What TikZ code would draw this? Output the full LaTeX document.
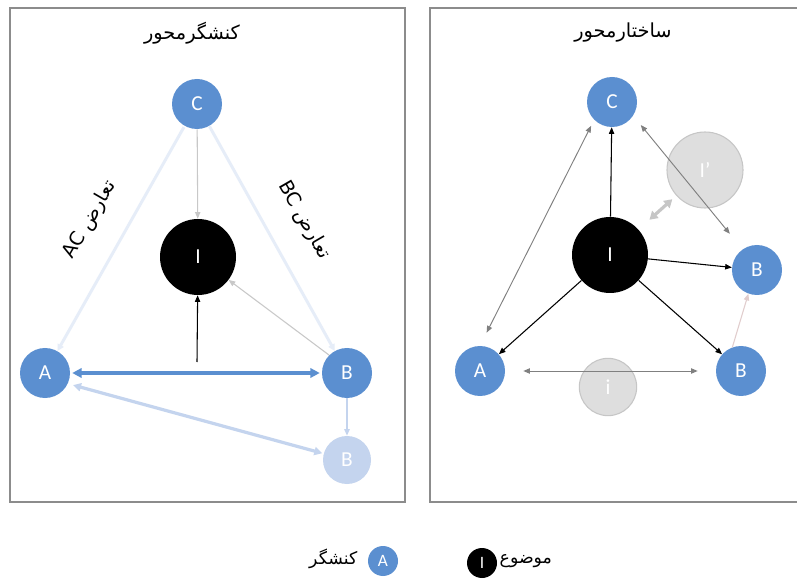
\documentclass[tikz,border=0pt]{standalone}
\usepackage{fontspec}
\setmainfont{Carlito}
\newfontfamily\arabicfont[Script=Arabic]{DejaVu Sans}
\TeXXeTstate=1
\usetikzlibrary{arrows.meta}
\definecolor{nodeblue}{RGB}{91,143,208}
\definecolor{paleblue}{RGB}{196,212,238}
\definecolor{faintblue}{RGB}{230,237,248}
\definecolor{ghostfill}{RGB}{222,222,222}
\definecolor{ghostdraw}{RGB}{198,198,198}
\definecolor{framegray}{RGB}{140,140,140}
\definecolor{arrowgray}{RGB}{128,128,128}
\definecolor{lightgray2}{RGB}{200,200,200}
\definecolor{pinkgray}{RGB}{225,205,205}
\tikzset{
  actor/.style={circle, fill=nodeblue, text=white, minimum size=37.5pt, inner sep=0pt, font=\fontsize{16}{16}\selectfont},
  topic/.style={circle, fill=black, text=white, minimum size=57pt, inner sep=0pt, font=\fontsize{16}{16}\selectfont},
  ghostactor/.style={circle, fill=paleblue, text=white, minimum size=36pt, inner sep=0pt, font=\fontsize{16}{16}\selectfont},
  ghosttopic/.style={circle, fill=ghostfill, draw=ghostdraw, line width=0.8pt, text=white, inner sep=0pt, font=\fontsize{16}{16}\selectfont},
  legactor/.style={circle, fill=nodeblue, text=white, minimum size=22.5pt, inner sep=0pt, font=\fontsize{13}{13}\selectfont},
  legtopic/.style={circle, fill=black, text=white, minimum size=22.5pt, inner sep=0pt, font=\fontsize{13}{13}\selectfont},
  frame/.style={draw=framegray, line width=0.8pt},
  title/.style={font=\arabicfont\fontsize{14.5}{16}\selectfont},
  legtext/.style={font=\arabicfont\fontsize{13}{15}\selectfont},
  conflict/.style={font=\arabicfont\fontsize{14.5}{16}\selectfont},
  tip/.style={-{Triangle[length=5pt,width=4pt]}},
  dtip/.style={{Triangle[length=5pt,width=4pt]}-{Triangle[length=5pt,width=4pt]}},
  blackarrow/.style={tip, black, line width=0.8pt},
  grayarrow/.style={dtip, arrowgray, line width=0.7pt},
}
\begin{document}
\begin{tikzpicture}[x=0.75pt,y=-0.75pt]
\useasboundingbox (0,0) rectangle (797,581);
\fill[white] (0,0) rectangle (797,581);

% frames
\draw[frame] (10,8) rectangle (405,502);
\draw[frame] (797,8) -- (430,8) -- (430,502) -- (797,502);

% titles
\node[title] (ltitle) at (192,33) {\beginR کنشگرمحور\endR};
\node[title] (rtitle) at (623,33) {\beginR ساختارمحور\endR};

% ===== left panel =====
\node[actor] (lC) at (197,104) {C};
\node[topic] (lI) at (198,257) {I};
\node[actor] (lA) at (45,373) {A};
\node[actor] (lB) at (347,373) {B};
\node[ghostactor] (lBp) at (347,460) {B};
\coordinate (lup) at (197,362);

\draw[{Triangle[length=5pt,width=5pt]}-, faintblue, line width=2.2pt, shorten >=1pt] (lA) -- (lC);
\draw[{Triangle[length=5pt,width=5pt]}-, faintblue, line width=2.2pt] (lB) -- (lC);
\draw[tip, lightgray2, line width=0.8pt] (lC) -- (lI);
\draw[tip, lightgray2, line width=0.8pt] (lB.135) -- (lI);
\draw[{Triangle[length=6pt,width=6pt]}-{Triangle[length=6pt,width=6pt]}, paleblue, line width=2.4pt, shorten <=4pt, shorten >=1pt] (lA.-25) -- (lBp);
\draw[tip, paleblue, line width=1.2pt] (lB) -- (lBp);
\draw[{Triangle[length=7pt,width=7pt]}-{Triangle[length=7pt,width=7pt]}, nodeblue, line width=2.6pt, shorten <=1.5pt, shorten >=1.5pt] (lA) -- (lB);
\draw[blackarrow] (lup) -- (lI);

\node[conflict, rotate=60] (lac) at (90,220) {\beginR تعارض \beginL AC\endL\endR};
\node[conflict, rotate=-60] (lbc) at (304,220) {\beginR تعارض \beginL BC\endL\endR};

% ===== right panel =====
\node[ghosttopic, minimum size=57pt] (rIp) at (705,170) {I'};
\node[ghosttopic, minimum size=43pt] (ri) at (608,387) {i};
\node[actor] (rC) at (612,102) {C};
\node[topic] (rI) at (610,255) {I};
\node[actor] (rBu) at (757,270) {B};
\node[actor] (rA) at (480,371) {A};
\node[actor] (rBl) at (741,371) {B};

\draw[blackarrow] (rI) -- (rC);
\draw[blackarrow] (rI) -- (rBu);
\draw[blackarrow] (rI) -- (rA);
\draw[blackarrow] (rI) -- (rBl);
\draw[grayarrow, shorten <=11pt, shorten >=5pt] (rA.north) -- (rC.south west);
\draw[grayarrow, shorten <=9pt, shorten >=15pt] (rC.-33) -- (rBu.125);
\draw[grayarrow, shorten <=13.5pt, shorten >=13.5pt] (rA) -- (rBl);
\draw[{Triangle[length=6pt,width=7pt]}-{Triangle[length=6pt,width=7pt]}, ghostdraw, line width=2.4pt, shorten <=11pt, shorten >=4pt] (rI) -- (rIp);
\draw[tip, pinkgray, line width=0.8pt] (rBl.110) -- (rBu.250);

% ===== legend =====
\node[legtopic] (legI) at (482,563) {I};
\node[legtext, anchor=west] (legIt) at (495,561) {\beginR موضوع\endR};
\node[legactor] (legA) at (383,561) {A};
\node[legtext, anchor=east] (legAt) at (362,559) {\beginR کنشگر\endR};
\end{tikzpicture}
\end{document}
